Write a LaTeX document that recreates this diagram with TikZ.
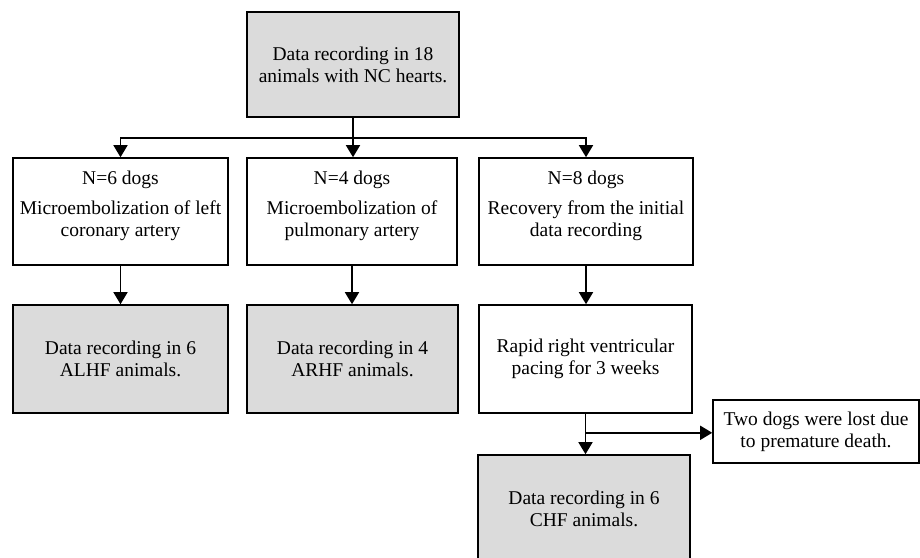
\documentclass[tikz,border=0pt]{standalone}
\usepackage{fontspec}
\setmainfont{Liberation Serif}
\usetikzlibrary{arrows.meta,calc}
\newcommand\liftup[2]{\raisebox{#1}[\height][\depth]{\begin{tabular}{@{}c@{}}#2\end{tabular}}}
\begin{document}
\begin{tikzpicture}[x=1pt,y=-1pt,
  box/.style={draw,line width=1.6pt,rectangle,inner sep=0pt,align=center,
    font=\fontsize{19.5}{22}\selectfont},
  shaded/.style={box,fill=black!14},
  conn/.style={line width=1.6pt},
  arr/.style={conn,-{Triangle[width=14pt,length=12pt]}}]
\useasboundingbox (0,0) rectangle (920,557);
\clip (0,0) rectangle (920,557);
% top
\node[shaded,minimum width=212pt,minimum height=105pt] (top) at (353,64.5)
  {Data recording in 18\\animals with NC hearts.};
% row 2
\node[box,minimum width=215pt,minimum height=107pt] (n6) at (120.5,211.5)
  {\liftup{5.5pt}{N=6 dogs\\[8pt]Microembolization of left\\coronary artery}};
\node[box,minimum width=210pt,minimum height=107pt] (n4) at (352,211.5)
  {\liftup{5.5pt}{N=4 dogs\\[8pt]Microembolization of\\pulmonary artery}};
\node[box,minimum width=214pt,minimum height=107pt] (n8) at (586,211.5)
  {\liftup{5.5pt}{N=8 dogs\\[8pt]Recovery from the initial\\data recording}};
% row 3
\node[shaded,minimum width=215pt,minimum height=108pt] (alhf) at (120.5,359)
  {Data recording in 6\\ALHF animals.};
\node[shaded,minimum width=211pt,minimum height=108pt] (arhf) at (352.5,359)
  {Data recording in 4\\ARHF animals.};
\node[box,minimum width=213pt,minimum height=108pt] (rapid) at (585.5,359)
  {Rapid right ventricular\\pacing for 3 weeks};
% side and bottom
\node[box,minimum width=206pt,minimum height=63pt] (lost) at (816,431.5)
  {Two dogs were lost due\\to premature death.};
\node[shaded,minimum width=212pt,minimum height=108pt] (chf) at (584,509)
  {Data recording in 6\\CHF animals.};
% connectors
\coordinate (split) at ($(top.south)+(0,20)$);
\draw[conn] (top.south) -- (split);
\draw[arr] (split) -| (n6.north);
\draw[arr] (split) -| (n8.north);
\draw[arr] (split) -- (split |- n4.north);
\draw[arr] (n6.south) -- (alhf.north);
\draw[arr] (n4.south) -- (n4.south |- arhf.north);
\draw[arr] (n8.south) -- (n8.south |- rapid.north);
\coordinate (drop) at ($(rapid.south)+(0,19)$);
\draw[arr] (rapid.south) -- (rapid.south |- chf.north);
\draw[arr] (drop) -- (drop -| lost.west);
\end{tikzpicture}
\end{document}
